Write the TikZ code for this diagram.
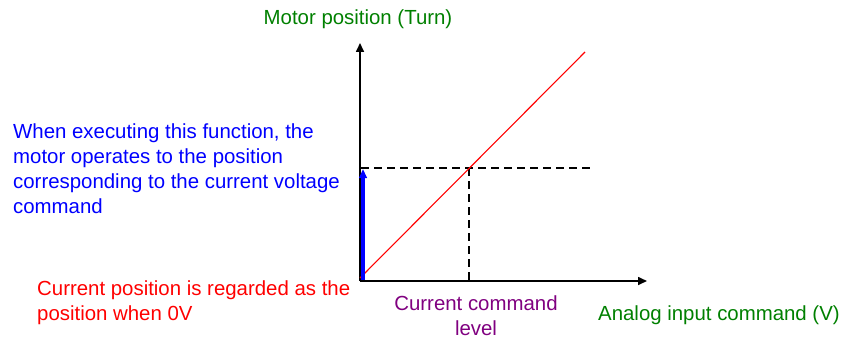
\documentclass[tikz,border=0pt]{standalone}
\usepackage{fontspec}
\setmainfont{Liberation Sans}
\usetikzlibrary{arrows.meta}
\definecolor{lblgreen}{RGB}{0,128,0}
\definecolor{lblpurple}{RGB}{128,0,128}
\begin{document}
\begin{tikzpicture}[x=1pt,y=-1pt,
  lbl/.style={inner sep=0pt, font=\fontsize{20.4}{25}\selectfont, align=left},
  axis/.style={line width=1.6pt, -{Triangle[length=9pt,width=8pt]}},
  guide/.style={line width=1.2pt, dash pattern=on 8pt off 5pt}]
\useasboundingbox (0,0) rectangle (843,345);
% key points
\coordinate (O) at (360,281);
\coordinate (ytip) at (360,43);
\coordinate (xtip) at (647,281);
\coordinate (rs) at (360,278);
\coordinate (re) at (585,52);
\coordinate (P) at (469,168);
\coordinate (hs) at (361,168);
\coordinate (he) at (594,168);
\coordinate (xs) at (469,281);
\coordinate (bs) at (363,280);
\coordinate (be) at (363,169);
% axes
\draw[axis] (O) -- (ytip);
\draw[axis] (O) -- (xtip);
% guides
\draw[guide] (hs) -- (he);
\draw[guide] (P) -- (xs);
% red line
\draw[red, line width=1.1pt] (rs) -- (re);
% blue arrow
\draw[blue, line width=3.2pt, -{Triangle[length=9pt,width=7.5pt]}] (bs) -- (be);
% labels
\node[lbl, text=lblgreen, anchor=base] (ylab) at (358,25) {Motor position (Turn)};
\node[lbl, text=blue, anchor=base west] (blab) at (13,213) {When executing this function, the\\motor operates to the position\\corresponding to the current voltage\\command};
\node[lbl, text=red, anchor=base west] (rlab) at (37,320) {Current position is regarded as the\\position when 0V};
\node[lbl, text=lblpurple, anchor=base, align=center] (plab) at (476,335) {Current command\\level};
\node[lbl, text=lblgreen, anchor=base west] (xlab) at (598,320) {Analog input command (V)};
\end{tikzpicture}
\end{document}
